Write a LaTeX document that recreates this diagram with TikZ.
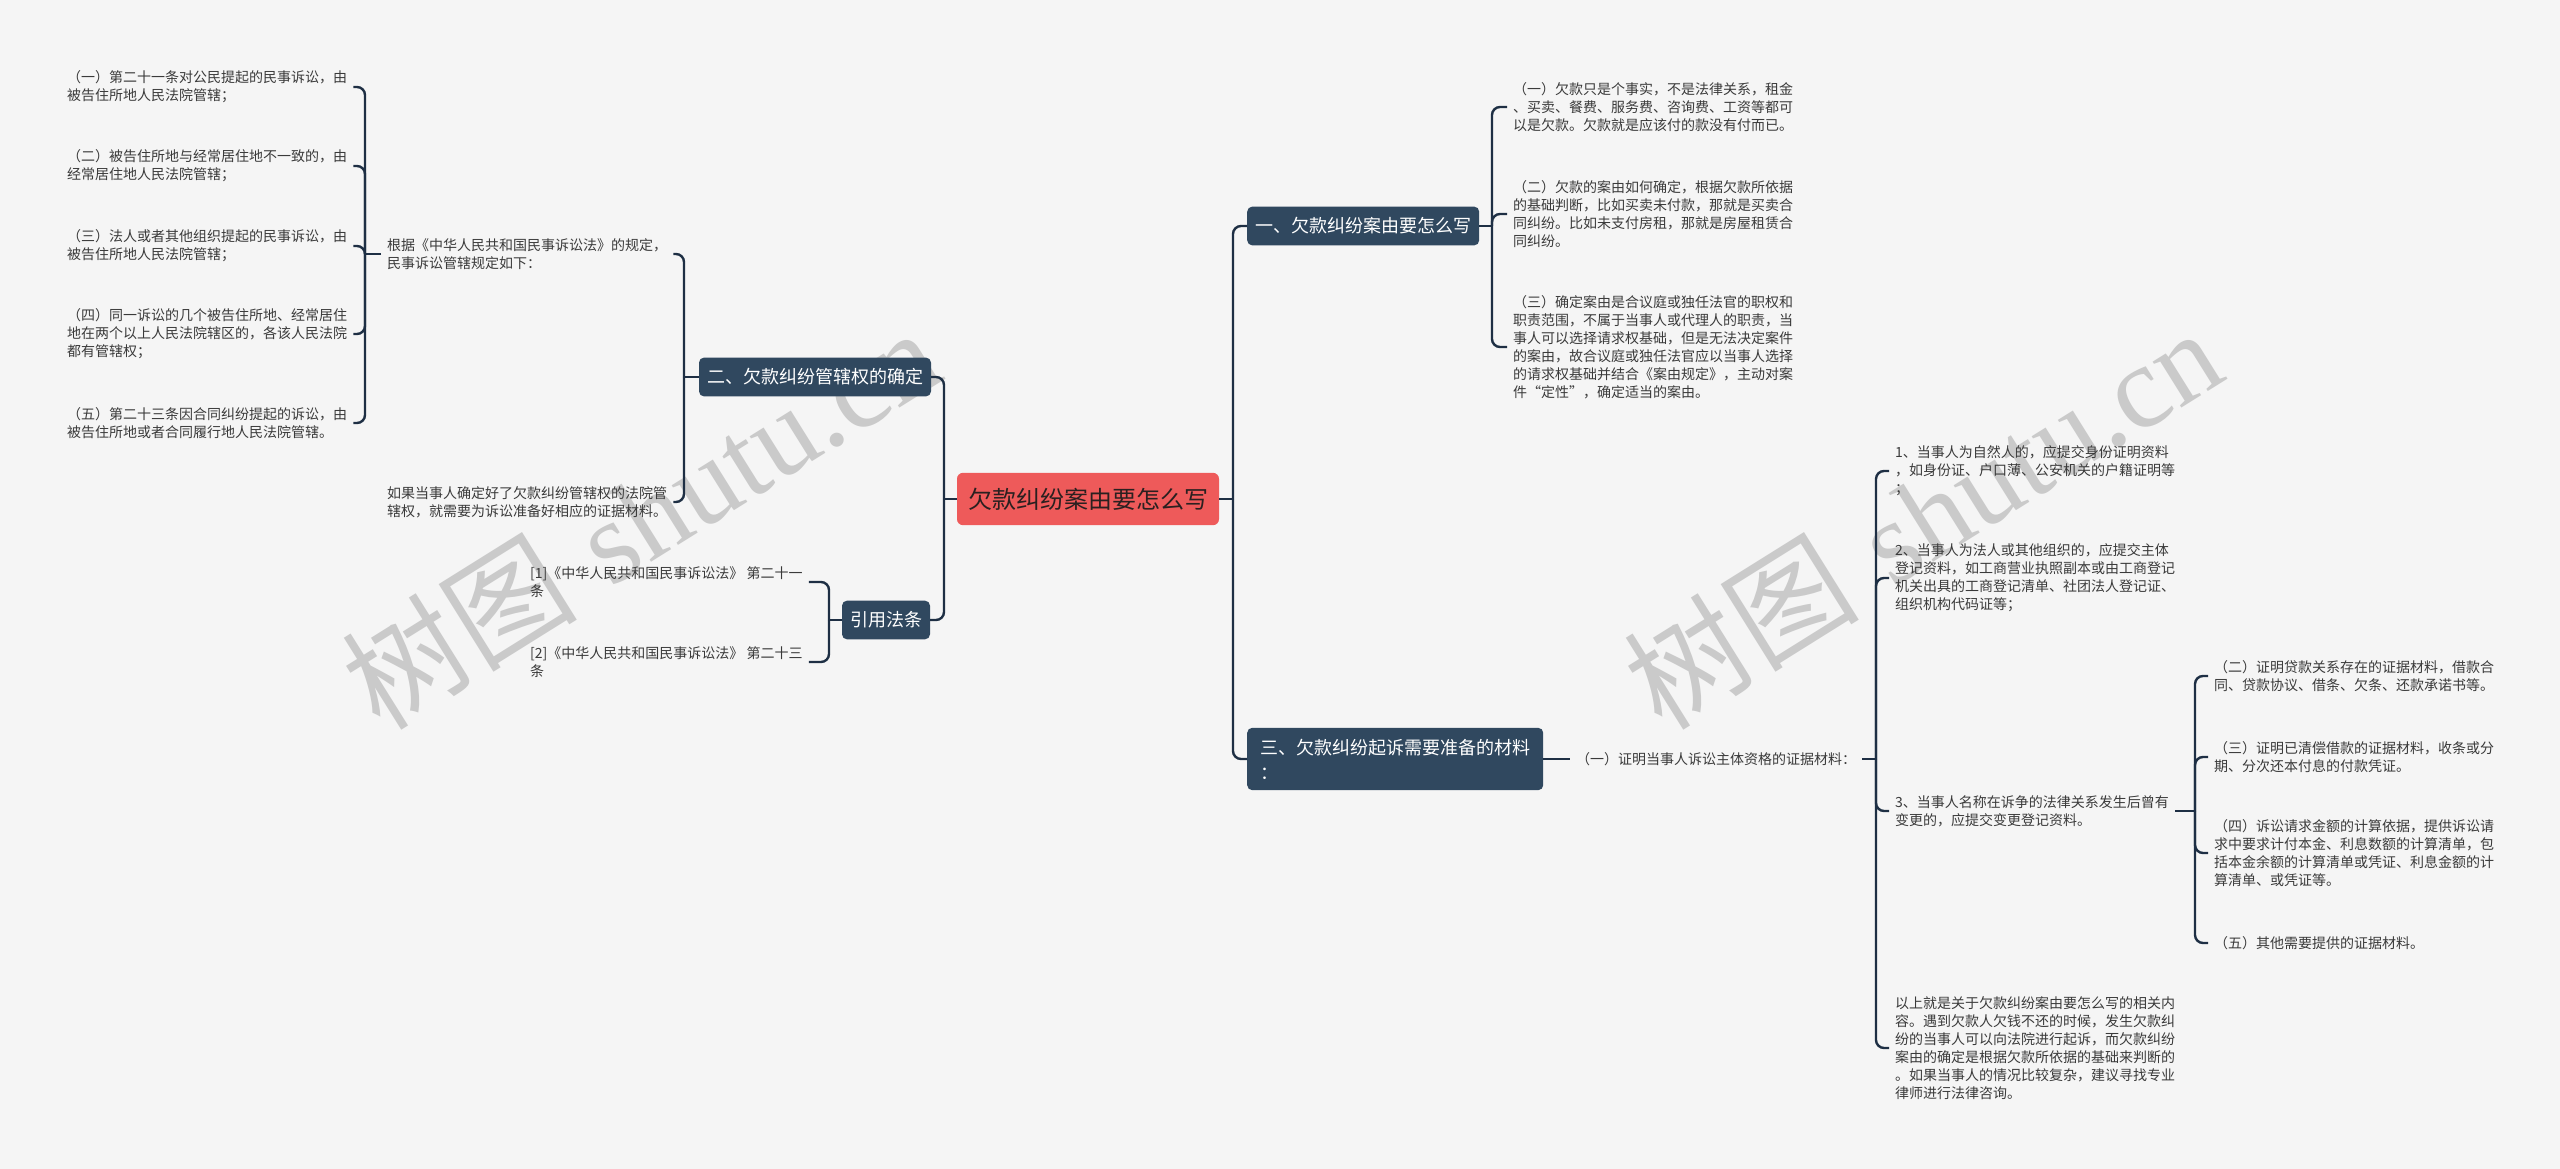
\documentclass[tikz,border=0pt]{standalone}
\usepackage{fontspec}
\newfontfamily\cjk{Noto Sans CJK SC}
\newfontfamily\wmserif{Liberation Serif}
\definecolor{bgc}{HTML}{F5F5F5}
\definecolor{linec}{HTML}{1E2F44}
\definecolor{boxc}{HTML}{30485F}
\definecolor{rootc}{HTML}{EE5A5A}
\definecolor{roottxt}{HTML}{2A2020}
\definecolor{txtc}{HTML}{3A3A3A}
\definecolor{wmc}{HTML}{CACACA}
\begin{document}
\begin{tikzpicture}[x=1pt,y=-1pt,
  conn/.style={draw=linec, line width=2.4pt, rounded corners=8pt},
  txt/.style={anchor=west, align=left, inner xsep=6pt, inner ysep=2pt, text=txtc, font=\cjk\fontsize{14}{18}\selectfont},
  branch/.style={fill=boxc, rounded corners=5pt, text=white, align=left, font=\cjk\fontsize{18}{25}\selectfont, inner xsep=8pt, inner ysep=11pt},
  rootn/.style={fill=rootc, rounded corners=6pt, text=roottxt, font=\cjk\fontsize{24}{30}\selectfont, inner xsep=11pt, inner ysep=15pt},
  wm/.style={rotate=32, text=wmc, font=\fontsize{118}{118}\selectfont}]
\fill[bgc] (0,0) rectangle (2560,1169);
\useasboundingbox (0,0) rectangle (2560,1169);

% watermarks
\node[wm] (wm1) at (640,517) {{\cjk 树图} {\wmserif shutu.cn}};
\node[wm] (wm2) at (1922,517) {{\cjk 树图} {\wmserif shutu.cn}};

% root and branches
\node[rootn] (root) at (1088,499) {欠款纠纷案由要怎么写};
\node[branch, anchor=west] (b1) at (1247,226) {一、欠款纠纷案由要怎么写};
\node[branch] (b2) at (815,377) {二、欠款纠纷管辖权的确定};
\node[branch] (law) at (886,620) {引用法条};
\node[branch, anchor=west, minimum width=296pt] (b3) at (1247,759) {三、欠款纠纷起诉需要准备的材料\\：};

% left side texts
\node[txt] (l1) at (61,87) {（一）第二十一条对公民提起的民事诉讼，由\\被告住所地人民法院管辖；};
\node[txt] (l2) at (61,166) {（二）被告住所地与经常居住地不一致的，由\\经常居住地人民法院管辖；};
\node[txt] (l3) at (61,246) {（三）法人或者其他组织提起的民事诉讼，由\\被告住所地人民法院管辖；};
\node[txt] (l4) at (61,334) {（四）同一诉讼的几个被告住所地、经常居住\\地在两个以上人民法院辖区的，各该人民法院\\都有管辖权；};
\node[txt] (l5) at (61,423) {（五）第二十三条因合同纠纷提起的诉讼，由\\被告住所地或者合同履行地人民法院管辖。};
\node[txt] (gen) at (381,254) {根据《中华人民共和国民事诉讼法》的规定，\\民事诉讼管辖规定如下：};
\node[txt] (ruguo) at (381,502) {如果当事人确定好了欠款纠纷管辖权的法院管\\辖权，就需要为诉讼准备好相应的证据材料。};
\node[txt] (r1) at (524,582) {[1]《中华人民共和国民事诉讼法》 第二十一\\条};
\node[txt] (r2) at (524,662) {[2]《中华人民共和国民事诉讼法》 第二十三\\条};

% branch 1 children
\node[txt] (c1) at (1507,107) {（一）欠款只是个事实，不是法律关系，租金\\、买卖、餐费、服务费、咨询费、工资等都可\\以是欠款。欠款就是应该付的款没有付而已。};
\node[txt] (c2) at (1507,214) {（二）欠款的案由如何确定，根据欠款所依据\\的基础判断，比如买卖未付款，那就是买卖合\\同纠纷。比如未支付房租，那就是房屋租赁合\\同纠纷。};
\node[txt] (c3) at (1507,347) {（三）确定案由是合议庭或独任法官的职权和\\职责范围，不属于当事人或代理人的职责，当\\事人可以选择请求权基础，但是无法决定案件\\的案由，故合议庭或独任法官应以当事人选择\\的请求权基础并结合《案由规定》，主动对案\\件“定性”，确定适当的案由。};

% branch 3 children
\node[txt] (s1) at (1570,759) {（一）证明当事人诉讼主体资格的证据材料：};
\node[txt] (m1) at (1889,471) {1、当事人为自然人的，应提交身份证明资料\\，如身份证、户口薄、公安机关的户籍证明等\\；};
\node[txt] (m2) at (1889,578) {2、当事人为法人或其他组织的，应提交主体\\登记资料，如工商营业执照副本或由工商登记\\机关出具的工商登记清单、社团法人登记证、\\组织机构代码证等；};
\node[txt] (m3) at (1889,811) {3、当事人名称在诉争的法律关系发生后曾有\\变更的，应提交变更登记资料。};
\node[txt] (m4) at (1889,1048) {以上就是关于欠款纠纷案由要怎么写的相关内\\容。遇到欠款人欠钱不还的时候，发生欠款纠\\纷的当事人可以向法院进行起诉，而欠款纠纷\\案由的确定是根据欠款所依据的基础来判断的\\。如果当事人的情况比较复杂，建议寻找专业\\律师进行法律咨询。};
\node[txt] (n1) at (2208,676) {（二）证明贷款关系存在的证据材料，借款合\\同、贷款协议、借条、欠条、还款承诺书等。};
\node[txt] (n2) at (2208,757) {（三）证明已清偿借款的证据材料，收条或分\\期、分次还本付息的付款凭证。};
\node[txt] (n3) at (2208,853) {（四）诉讼请求金额的计算依据，提供诉讼请\\求中要求计付本金、利息数额的计算清单，包\\括本金余额的计算清单或凭证、利息金额的计\\算清单、或凭证等。};
\node[txt] (n4) at (2208,943) {（五）其他需要提供的证据材料。};

% junctions
\coordinate (rj) at (1233,499);
\coordinate (lj) at (944,499);
\coordinate (b1j) at (1492,226);
\coordinate (b2j) at (684,377);
\coordinate (genj) at (365,254);
\coordinate (lawj) at (829,620);
\coordinate (s1j) at (1876,759);
\coordinate (m3j) at (2195,811);

% connectors
\draw[conn] (root.east) -- (rj);
\draw[conn] (rj) |- (b1.west);
\draw[conn] (rj) |- (b3.west);
\draw[conn] (root.west) -- (lj);
\draw[conn] (lj) |- (b2.east);
\draw[conn] (lj) |- (law.east);

\draw[conn] (b1.east) -- (b1j);
\foreach \c in {c1,c2,c3} \draw[conn] (b1j) |- (\c.west);

\draw[conn] (b2.west) -- (b2j);
\foreach \c in {gen,ruguo} \draw[conn] (b2j) |- (\c.east);

\draw[conn] (gen.west) -- (genj);
\foreach \c in {l1,l2,l3,l4,l5} \draw[conn] (genj) |- (\c.east);

\draw[conn] (law.west) -- (lawj);
\foreach \c in {r1,r2} \draw[conn] (lawj) |- (\c.east);

\draw[conn] (b3.east) -- (s1.west);
\draw[conn] (s1.east) -- (s1j);
\foreach \c in {m1,m2,m3,m4} \draw[conn] (s1j) |- (\c.west);

\draw[conn] (m3.east) -- (m3j);
\foreach \c in {n1,n2,n3,n4} \draw[conn] (m3j) |- (\c.west);
\end{tikzpicture}
\end{document}
